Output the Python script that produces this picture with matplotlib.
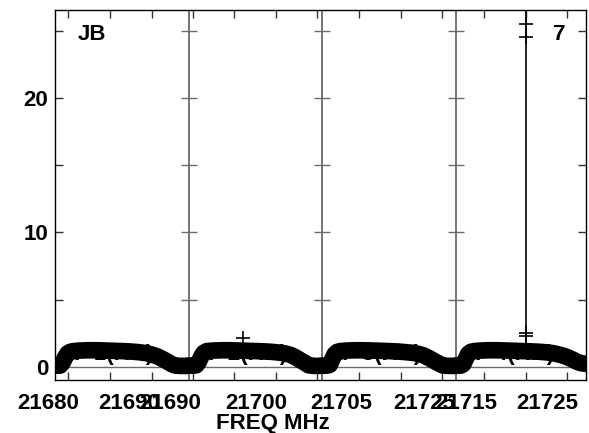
import matplotlib.pyplot as plt
from matplotlib.transforms import blended_transform_factory

plt.rcParams['font.family'] = ['Liberation Sans', 'DejaVu Sans']
plt.rcParams['font.weight'] = 'bold'

# width of one IF on the plot (MHz)
IF_WIDTH = 8.0

# channel offsets inside each IF (MHz)
chan_off = [0.0, 0.3, 0.45, 0.6, 0.75, 0.9, 1.1, 1.5, 2.0, 2.5, 3.0, 3.5,
            4.0, 4.5, 5.0, 5.5, 5.8, 6.1, 6.4, 6.7, 7.0, 7.2, 7.5, 8.0]

# amplitudes per IF
amp_if1 = [0.1, 0.1, 0.3, 0.7, 1.0, 1.12, 1.18, 1.22, 1.24, 1.24, 1.22, 1.2,
           1.18, 1.15, 1.1, 1.02, 0.92, 0.8, 0.62, 0.42, 0.2, 0.1, 0.08, 0.08]
amp_if2 = [0.1, 0.1, 0.12, 0.35, 0.75, 1.05, 1.18, 1.22, 1.24, 1.24, 1.22, 1.2,
           1.18, 1.16, 1.12, 1.06, 1.0, 0.9, 0.72, 0.5, 0.28, 0.12, 0.08, 0.08]
amp_if3 = [0.1, 0.1, 0.15, 0.55, 0.95, 1.12, 1.18, 1.22, 1.24, 1.24, 1.22, 1.2,
           1.18, 1.15, 1.1, 1.04, 0.96, 0.85, 0.66, 0.45, 0.25, 0.12, 0.08, 0.08]
amp_if4 = [0.1, 0.1, 0.2, 0.6, 0.98, 1.12, 1.18, 1.22, 1.24, 1.24, 1.22, 1.2,
           1.18, 1.16, 1.13, 1.08, 1.03, 0.95, 0.85, 0.72, 0.55, 0.42, 0.28, 0.2]
amps = [amp_if1, amp_if2, amp_if3, amp_if4]
if_names = ['IF 1(RR)', 'IF 2(RR)', 'IF 3(RR)', 'IF 4(RR)']

# odd points
blip_if, blip_off, blip_val = 1, 3.26, 2.15
spike_if, spike_off = 3, 4.2
spike_vals = [1.2, 2.3, 2.5, 24.5, 25.5, 40.0]

# axis ticks / labels (plot MHz)
xticks = [0.78, 3.29, 5.81, 8.26, 10.72, 13.23, 15.69, 18.2, 20.72, 23.17,
          25.69, 28.2, 30.66]
xlab_pos = [-0.42, 4.43, 6.89, 12.04, 17.13, 22.1, 24.61, 29.46]
xlab_txt = ['21680', '21690', '21690', '21700', '21705', '21725', '21715', '21725']
yticks = [0, 5, 10, 15, 20, 25]
ylab_txt = ['0', '', '10', '', '20', '']

fig = plt.figure(figsize=(5.89, 4.33), dpi=100)
ax = fig.add_axes([55 / 589, 53 / 433, 531 / 589, 370 / 433])
ax.set_xlim(0, 31.8)
ax.set_ylim(-0.97, 26.54)

grey = '#6a6a6a'
ax.axhline(0, color=grey, lw=1.0, zorder=1)
for k in range(1, 4):
    ax.axvline(k * IF_WIDTH, color=grey, lw=1.3, zorder=1)
    ax.plot([k * IF_WIDTH] * len(yticks), yticks, ls='none', marker='_',
            ms=12, mew=1.0, color=grey, zorder=1)

for k, a in enumerate(amps):
    x = [k * IF_WIDTH + o for o in chan_off]
    ax.plot(x, a, color='black', lw=12, solid_capstyle='round',
            solid_joinstyle='round', zorder=3)
    ax.text(k * IF_WIDTH + 0.8, 0.52, if_names[k], fontsize=16,
            color='black', zorder=2)

ax.plot([blip_if * IF_WIDTH + blip_off], [blip_val], ls='none', marker='+',
        ms=9.5, mew=1.2, color='black', zorder=4)
sx = spike_if * IF_WIDTH + spike_off
ax.plot([sx] * len(spike_vals), spike_vals, color='black', lw=1.2, zorder=4)
ax.plot([sx] * 4, spike_vals[1:5], ls='none', marker='+', ms=9.5, mew=1.2,
        color='black', zorder=4)

ax.set_yticks(yticks)
ax.set_yticklabels(ylab_txt, fontsize=16, fontweight='bold')
ax.set_xticks(xticks)
ax.tick_params(axis='both', direction='in', length=5.8, width=1.0,
               top=True, right=True, labelbottom=False, color='#333333')
ax.tick_params(axis='y', pad=5)
for s in ax.spines.values():
    s.set_linewidth(1.0)

tr = blended_transform_factory(ax.transData, ax.transAxes)
for p, t in zip(xlab_pos, xlab_txt):
    ax.text(p, -0.035, t, transform=tr, ha='center', va='top', fontsize=16,
            fontweight='bold', clip_on=False)

fig.text(273 / 589, 1 - 423 / 433, 'FREQ MHz', ha='center', va='center',
         fontsize=16, fontweight='bold')
fig.text(78 / 589, 1 - 24 / 433, 'JB', ha='left', va='top', fontsize=16,
         fontweight='bold')
fig.text(553 / 589, 1 - 24 / 433, '7', ha='left', va='top', fontsize=16,
         fontweight='bold')

fig.savefig('out.png', dpi=100)
